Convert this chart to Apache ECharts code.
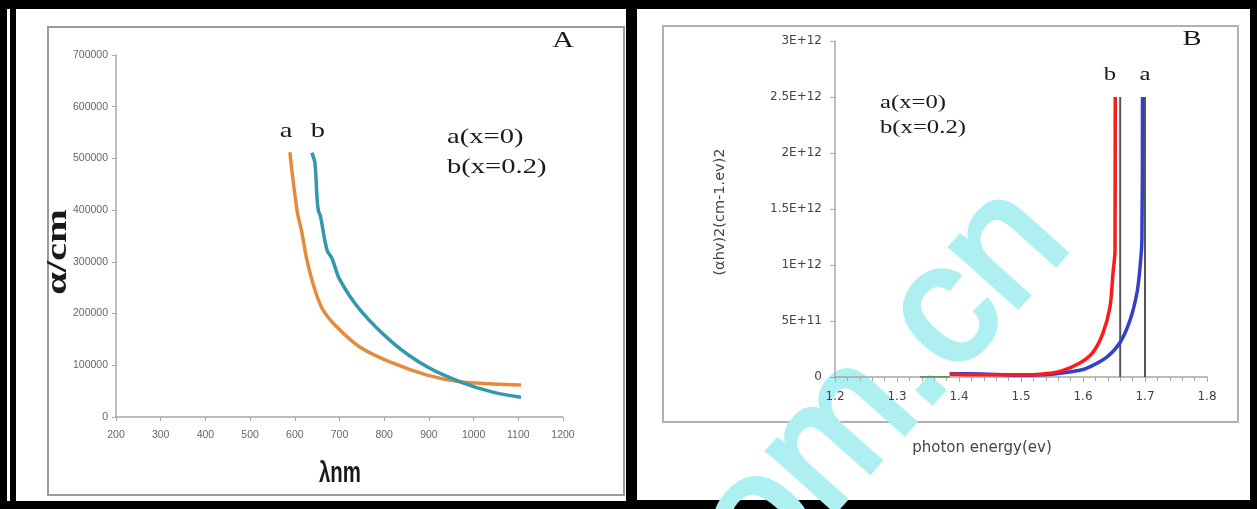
<!DOCTYPE html>
<html><head><meta charset="utf-8">
<script src="https://cdn.jsdelivr.net/npm/echarts@6/dist/echarts.min.js"></script>
<style>html,body{margin:0;padding:0;background:#000;overflow:hidden}#c{width:1257px;height:509px}</style>
</head><body><div id="c"></div>
<script>
// ---- Panel A: absorption coefficient vs wavelength ----
const wlMin = 200, wlMax = 1200, wlStep = 100;
const alphaMin = 0, alphaMax = 700000, alphaStep = 100000;
const aWavelength = [589, 605, 616, 627, 645, 663, 694, 746, 820, 896, 970, 1043, 1106];
const aAlpha      = [512000, 400000, 356000, 304000, 246000, 207000, 174000, 135000, 104000, 81000, 68000, 64000, 62000];
const bWavelength = [638, 645, 650, 653, 657, 672, 683, 701, 746, 820, 896, 970, 1043, 1106];
const bAlpha      = [511000, 491000, 420000, 398000, 390000, 323000, 307000, 265000, 207000, 143000, 97000, 68000, 48000, 38000];

// ---- Panel B: (alpha h v)^2 vs photon energy ----
const eMin = 1.2, eMax = 1.8, eStep = 0.1;
const tMin = 0, tMax = 3e12, tStep = 5e11;
const bEnergy = [1.385, 1.43, 1.5, 1.531, 1.563, 1.595, 1.616, 1.632, 1.6435, 1.6484, 1.6516, 1.652];
const bTauc   = [2.5e10, 2e10, 2e10, 2.5e10, 5e10, 1.25e11, 2.2e11, 3.9e11, 6.25e11, 9.3e11, 1.13e12, 2.5e12];
const aEnergy = [1.385, 1.42, 1.5, 1.55, 1.595, 1.611, 1.639, 1.66, 1.676, 1.687, 1.692, 1.695, 1.696];
const aTauc   = [3e10, 3e10, 1.5e10, 2.5e10, 6e10, 9e10, 1.8e11, 3.1e11, 5.1e11, 7.5e11, 9.8e11, 1.22e12, 2.5e12];
const greenEnergy = [1.337, 1.385];
const greenTauc   = [0, 0];
const gapEnergy = [1.66, 1.70];
const gapTop = 2.5e12;

const zip = (xs, ys) => xs.map((x, i) => [x, ys[i]]);

const chart = echarts.init(document.getElementById('c'), null, {renderer: 'canvas'});

function txt(x, y, text, o) {
  o = o || {};
  return {
    type: 'text', x: x, y: y, rotation: o.rotation || 0,
    scaleX: o.scaleX || 1, scaleY: o.scaleY || 1, z: o.z || 50,
    style: {
      text: text,
      fontSize: o.size || 14,
      fontFamily: o.family || 'Liberation Serif',
      fontWeight: o.weight || 'normal',
      fill: o.fill || '#1a1a1a',
      align: o.align || 'center', verticalAlign: 'middle',
      textAlign: o.align || 'center', textVerticalAlign: 'middle'
    }
  };
}

const axisGray = '#a8a8a8';

const option = {
  backgroundColor: '#000',
  animation: false,
  grid: [
    {left: 116, top: 55, width: 447, height: 362, containLabel: false, outerBoundsMode: 'none'},
    {left: 835, top: 41, width: 372, height: 336, containLabel: false, outerBoundsMode: 'none'}
  ],
  xAxis: [
    {
      type: 'value', gridIndex: 0, min: wlMin, max: wlMax, interval: wlStep,
      axisLine: {lineStyle: {color: axisGray, width: 1.5}},
      axisTick: {show: true, inside: false, length: 4, lineStyle: {color: axisGray}},
      splitLine: {show: false},
      axisLabel: {margin: 13, fontSize: 10.5, color: '#666', fontFamily: 'Liberation Sans', formatter: v => String(v)}
    },
    {
      type: 'value', gridIndex: 1, min: eMin, max: eMax, interval: eStep,
      axisLine: {lineStyle: {color: axisGray, width: 1.5}},
      axisTick: {show: true, inside: false, length: 5, lineStyle: {color: axisGray}},
      minorTick: {show: true, splitNumber: 5, length: 4, lineStyle: {color: axisGray}},
      splitLine: {show: false},
      axisLabel: {margin: 14, fontSize: 12, color: '#444', fontFamily: 'DejaVu Sans', formatter: v => v.toFixed(1)}
    }
  ],
  yAxis: [
    {
      type: 'value', gridIndex: 0, min: alphaMin, max: alphaMax, interval: alphaStep,
      axisLine: {show: true, lineStyle: {color: axisGray, width: 1.5}},
      axisTick: {show: true, inside: false, length: 4, lineStyle: {color: axisGray}},
      splitLine: {show: false},
      axisLabel: {margin: 8, fontSize: 10.5, color: '#666', fontFamily: 'Liberation Sans', formatter: v => String(v)}
    },
    {
      type: 'value', gridIndex: 1, min: tMin, max: tMax, interval: tStep,
      axisLine: {show: true, lineStyle: {color: axisGray, width: 1.5}},
      axisTick: {show: true, inside: false, length: 5, lineStyle: {color: axisGray}},
      splitLine: {show: false},
      axisLabel: {margin: 13, fontSize: 12, color: '#444', fontFamily: 'DejaVu Sans',
        formatter: v => v === 0 ? '0' : v.toExponential().toUpperCase()}
    }
  ],
  series: [
    {type: 'line', name: 'a(x=0)', xAxisIndex: 0, yAxisIndex: 0, data: zip(aWavelength, aAlpha),
      showSymbol: false, smooth: 0.35, lineStyle: {color: '#e68a3c', width: 3.5}},
    {type: 'line', name: 'b(x=0.2)', xAxisIndex: 0, yAxisIndex: 0, data: zip(bWavelength, bAlpha),
      showSymbol: false, smooth: 0.35, lineStyle: {color: '#3398ae', width: 3.5}},
    {type: 'line', xAxisIndex: 1, yAxisIndex: 1, data: zip(greenEnergy, greenTauc),
      showSymbol: false, lineStyle: {color: '#3a8a3a', width: 1.5}},
    {type: 'line', name: 'gap b', xAxisIndex: 1, yAxisIndex: 1, data: [[gapEnergy[0], 0], [gapEnergy[0], gapTop]],
      showSymbol: false, lineStyle: {color: '#555', width: 2}},
    {type: 'line', name: 'gap a', xAxisIndex: 1, yAxisIndex: 1, data: [[gapEnergy[1], 0], [gapEnergy[1], gapTop]],
      showSymbol: false, lineStyle: {color: '#555', width: 2}},
    {type: 'line', name: 'a', xAxisIndex: 1, yAxisIndex: 1, data: zip(aEnergy, aTauc),
      showSymbol: false, smooth: 0.3, lineStyle: {color: '#3340cc', width: 3.5}},
    {type: 'line', name: 'b', xAxisIndex: 1, yAxisIndex: 1, data: zip(bEnergy, bTauc),
      showSymbol: false, smooth: 0.3, lineStyle: {color: '#ff1a1a', width: 3.5}}
  ],
  graphic: {elements: [
    {type: 'rect', z: -10, shape: {x: 7, y: 9, width: 619, height: 492}, style: {fill: '#fff'}},
    {type: 'rect', z: -9, shape: {x: 10, y: 9, width: 6, height: 492}, style: {fill: '#000'}},
    {type: 'rect', z: -10, shape: {x: 637, y: 9, width: 613, height: 491}, style: {fill: '#fff'}},
    {type: 'rect', z: -8, shape: {x: 48, y: 27, width: 576, height: 468}, style: {fill: 'none', stroke: '#9a9a9a', lineWidth: 2}},
    {type: 'rect', z: -8, shape: {x: 663, y: 26, width: 575, height: 396}, style: {fill: 'none', stroke: '#b0b0b0', lineWidth: 2}},
    // watermark (drawn beneath the plot marks)
    {type: 'text', x: 884, y: 386, rotation: 0.84, z: -5,
      style: {text: 'om.cn', fontSize: 170, fontFamily: 'Liberation Sans', fontWeight: 'normal',
        fill: '#aeeff2', stroke: '#aeeff2', lineWidth: 5, align: 'center', verticalAlign: 'middle',
        textAlign: 'center', textVerticalAlign: 'middle'}},
    // Panel A texts
    txt(563, 41, 'A', {size: 24, scaleX: 1.25}),
    txt(286, 131, 'a', {size: 22, scaleX: 1.3}),
    txt(318, 131, 'b', {size: 22, scaleX: 1.3}),
    txt(447, 137, 'a(x=0)', {size: 22, scaleX: 1.3, align: 'left'}),
    txt(447, 167, 'b(x=0.2)', {size: 22, scaleX: 1.3, align: 'left'}),
    txt(58, 252, 'α/cm', {size: 30, weight: 'bold', rotation: Math.PI / 2, scaleX: 1.35}),
    txt(340, 474, 'λnm', {size: 30, weight: 'bold', family: 'Liberation Sans', scaleX: 0.68}),
    // Panel B texts
    txt(1192, 39, 'B', {size: 22, scaleX: 1.3}),
    txt(1110, 75, 'b', {size: 19, scaleX: 1.3}),
    txt(1145, 75, 'a', {size: 19, scaleX: 1.3}),
    txt(880, 103, 'a(x=0)', {size: 19, scaleX: 1.3, align: 'left'}),
    txt(880, 128, 'b(x=0.2)', {size: 19, scaleX: 1.3, align: 'left'}),
    txt(720, 212, '(αhv)2(cm-1.ev)2', {size: 14.5, family: 'DejaVu Sans', fill: '#444', rotation: Math.PI / 2}),
    txt(982, 448, 'photon energy(ev)', {size: 15, family: 'DejaVu Sans', fill: '#444'})
  ]}
};
chart.setOption(option);
</script>
</body></html>
